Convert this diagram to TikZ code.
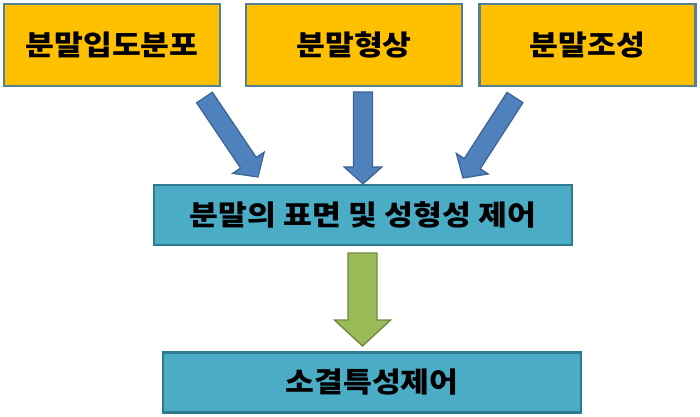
\documentclass[tikz,border=0pt]{standalone}
\usepackage{fontspec}
\usepackage{tikz}
\usetikzlibrary{calc}

\newfontfamily\kr{Noto Sans CJK KR}[FakeStretch=1.12]

\definecolor{goldfill}{HTML}{FFC000}
\definecolor{goldline}{RGB}{84,128,150}
\definecolor{aquafill}{HTML}{4BACC6}
\definecolor{aqualine}{RGB}{46,122,145}
\definecolor{bluefill}{HTML}{4F81BD}
\definecolor{blueline}{RGB}{58,99,150}
\definecolor{greenfill}{HTML}{9BBB59}
\definecolor{greenline}{RGB}{113,137,63}

\tikzset{
  fatarrow/.style n args={3}{% half shaft, half head, head length
    to path={
      let \p1=(\tikztostart), \p2=(\tikztotarget),
          \n1={atan2(\y2-\y1,\x2-\x1)}, \n2={veclen(\x2-\x1,\y2-\y1)-#3}
      in ($(\p1)+(\n1+90:#1)$) -- ($(\p1)+(\n1:\n2)+(\n1+90:#1)$)
      -- ($(\p1)+(\n1:\n2)+(\n1+90:#2)$) -- (\p2)
      -- ($(\p1)+(\n1:\n2)+(\n1-90:#2)$) -- ($(\p1)+(\n1:\n2)+(\n1-90:#1)$)
      -- ($(\p1)+(\n1-90:#1)$) -- cycle
    }},
  topbox/.style={draw=goldline, fill=goldfill, line width=2.2pt,
    minimum width=216pt, minimum height=82pt, inner sep=0pt,
    font=\kr\bfseries\fontsize{28}{32}\selectfont},
  aquabox/.style={draw=aqualine, fill=aquafill, line width=2.2pt,
    minimum width=418pt, minimum height=60pt, inner sep=0pt,
    font=\kr\bfseries\fontsize{28}{32}\selectfont},
  bluearrow/.style={fatarrow={9.5}{19}{17}, draw=blueline, fill=bluefill, line width=1.2pt, line join=miter},
  greenarrow/.style={fatarrow={14.5}{28}{26}, draw=greenline, fill=greenfill, line width=1.4pt, line join=miter}
}

\begin{document}
\begin{tikzpicture}[x=1pt, y=1pt]

\useasboundingbox (0,0) rectangle (700,416);

% top row
\node[topbox] (size) at (112,371) {\raisebox{3pt}{분말입도분포}};
\node[topbox] (shape) at (354,371) {\raisebox{3pt}{분말형상}};
\node[topbox] (comp) at (587.5,371) {\raisebox{3pt}{분말조성}};

% middle and bottom
\node[aquabox] (surf) at (363,201) {분말의 표면 및 성형성 제어};
\node[aquabox] (sinter) at (372,33.5) {소결특성제어};

% arrow ends
\coordinate (t1) at (204.5,318.5);
\coordinate (h1) at (258,239);
\coordinate (t2) at (363,324);
\coordinate (t3) at (515,318.5);
\coordinate (h3) at (463,238);
\coordinate (t4) at (362.5,163);
\coordinate (h4) at (362.5,70);

\draw[bluearrow] (t1) to (h1);
\draw[bluearrow] (t2) to (surf.north);
\draw[bluearrow] (t3) to (h3);

\draw[greenarrow] (t4) to (h4);

\end{tikzpicture}
\end{document}
